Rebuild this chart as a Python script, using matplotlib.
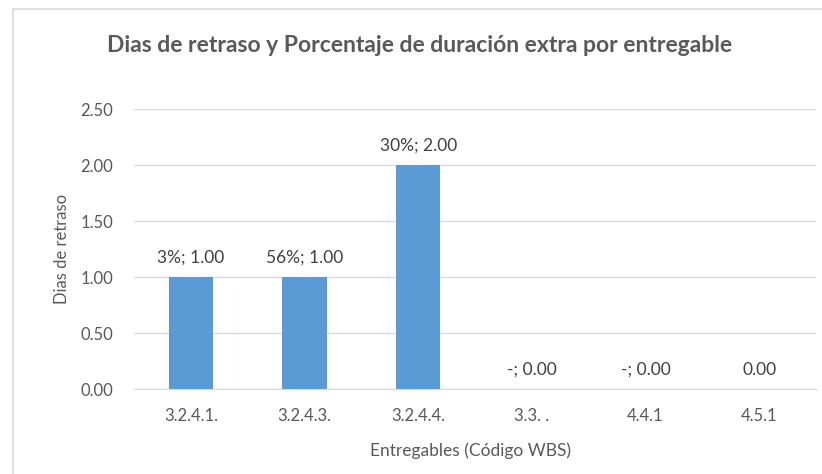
import matplotlib.pyplot as plt
from matplotlib.patches import Rectangle

# datos del gráfico
entregables = ['3.2.4.1.', '3.2.4.3.', '3.2.4.4.', '3.3. .', '4.4.1', '4.5.1']
dias_retraso = [1.00, 1.00, 2.00, 0.00, 0.00, 0.00]
porcentaje_extra = ['3%', '56%', '30%', '-', '-', '']
ticks_y = [0.0, 0.5, 1.0, 1.5, 2.0, 2.5]

gris = '#595959'
azul = '#5b9bd5'
plt.rcParams['font.family'] = ['Lato', 'DejaVu Sans']

fig = plt.figure(figsize=(8.22, 4.74), dpi=100)
W, H = 822, 474
# marco del área del gráfico (sale por la derecha y por abajo)
fig.patches.append(Rectangle((13 / W, -0.1), 1.2, 1.1 - 9 / H, transform=fig.transFigure,
                             fill=False, edgecolor='#d9d9d9', linewidth=1.2))

ax = fig.add_axes([134 / W, 1 - 389 / H, (816 - 134) / W, (389 - 109) / H])
x = range(len(entregables))
ax.bar(x, dias_retraso, width=0.39, color=azul, zorder=3)

for i, (v, p) in enumerate(zip(dias_retraso, porcentaje_extra)):
    txt = f'{p}; {v:.2f}' if p else f'{v:.2f}'
    ax.annotate(txt, (i, v), xytext=(0, 8), textcoords='offset points',
                ha='center', va='bottom', fontsize=12.5, color='#404040')

ax.set_xlim(-0.5, len(entregables) - 0.5)
ax.set_ylim(0, 2.5)
ax.set_yticks(ticks_y)
ax.set_yticklabels([f'{t:.2f}' for t in ticks_y])
ax.set_xticks(list(x))
ax.set_xticklabels(entregables)
ax.grid(axis='y', color='#d9d9d9', linewidth=1, zorder=0)
for s in ['top', 'right', 'left']:
    ax.spines[s].set_visible(False)
ax.spines['bottom'].set_color('#d9d9d9')
ax.tick_params(axis='both', length=0, colors=gris, labelsize=12)
ax.tick_params(axis='x', pad=14)
ax.tick_params(axis='y', pad=15)

ax.set_ylabel('Dias de retraso', color=gris, fontsize=12)
ax.yaxis.set_label_coords(-0.094, 0.5)
ax.set_xlabel('Entregables (Código WBS)', color=gris, fontsize=12.5)
ax.xaxis.set_label_coords(0.493, -0.19)

fig.text(420 / W, 1 - 46 / H, 'Dias de retraso y Porcentaje de duración extra por entregable',
         ha='center', va='center', fontsize=16.5, fontweight='bold', color=gris)

fig.savefig('out.png', dpi=100, facecolor='white')
